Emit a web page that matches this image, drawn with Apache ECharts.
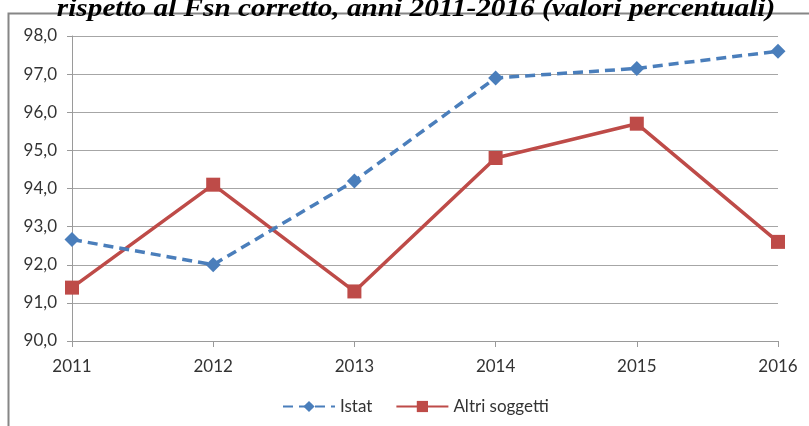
<!DOCTYPE html>
<html>
<head>
<meta charset="utf-8">
<script src="https://cdn.jsdelivr.net/npm/echarts@6/dist/echarts.min.js"></script>
<style>html,body{margin:0;padding:0;background:#fff;}#c{width:809px;height:426px;}</style>
</head>
<body>
<div id="c"></div>
<script>
var years = ['2011','2012','2013','2014','2015','2016'];
var istat = [92.66, 92.0, 94.2, 96.9, 97.15, 97.6];
var altri = [91.4, 94.1, 91.3, 94.8, 95.7, 92.6];
var titleText = 'rispetto al Fsn corretto, anni 2011-2016 (valori percentuali)';

var chart = echarts.init(document.getElementById('c'), null, {renderer: 'canvas'});
var labelFont = 'Lato';
chart.setOption({
  animation: false,
  backgroundColor: '#ffffff',
  graphic: [
    {type: 'polyline', z: 0, shape: {points: [[8.5, 426], [8.5, 13.5], [809, 13.5]]},
     style: {stroke: '#868686', lineWidth: 2, fill: null}},
    {type: 'text', x: 416, y: 22, scaleX: 1.17, z: 10, style: {x: 0, y: 0, text: titleText, font: 'italic bold 25px "Liberation Serif"',
      fill: '#000', textAlign: 'center', textVerticalAlign: 'bottom'}}
  ],
  grid: {left: 72, right: 31, top: 36, bottom: 85, containLabel: false},
  legend: {
    top: 398, left: 282, padding: 0, itemWidth: 52, itemHeight: 14, itemGap: 23,
    textStyle: {fontFamily: labelFont, fontSize: 17, color: '#333'},
    data: ['Istat', 'Altri soggetti']
  },
  xAxis: {
    type: 'category', data: years, boundaryGap: false,
    axisLine: {lineStyle: {color: '#9a9a9a', width: 1}},
    axisTick: {show: true, length: 6, lineStyle: {color: '#9a9a9a'}},
    axisLabel: {fontFamily: labelFont, fontSize: 17, color: '#333', margin: 17}
  },
  yAxis: {
    type: 'value', min: 90, max: 98, interval: 1,
    axisLine: {show: true, lineStyle: {color: '#9a9a9a', width: 1}},
    axisTick: {show: true, length: 5, lineStyle: {color: '#9a9a9a'}},
    axisLabel: {fontFamily: labelFont, fontSize: 17, color: '#333', margin: 15,
      formatter: function (v) { return v.toFixed(1).replace('.', ','); }},
    splitLine: {lineStyle: {color: '#a6a6a6', width: 1}}
  },
  series: [
    {name: 'Istat', type: 'line', data: istat, symbol: 'diamond', symbolSize: 15,
      itemStyle: {color: '#4A7EBB'}, lineStyle: {color: '#4A7EBB', width: 3.5, type: [10, 6]}, z: 3},
    {name: 'Altri soggetti', type: 'line', data: altri, symbol: 'rect', symbolSize: 14,
      itemStyle: {color: '#BE4B48'}, lineStyle: {color: '#BE4B48', width: 3.5}, z: 2}
  ]
});
</script>
</body>
</html>
